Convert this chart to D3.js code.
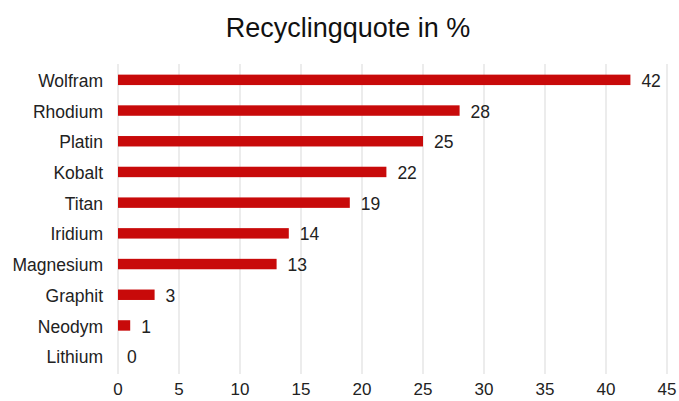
<!DOCTYPE html>
<html><head><meta charset="utf-8">
<script src="https://cdn.jsdelivr.net/npm/d3@7"></script>
<style>body{margin:0;background:#fff;} text{font-family:"Liberation Sans",Arial,sans-serif;}</style>
</head><body><svg id="c" width="679" height="401"></svg>
<script>
const categories = ["Wolfram","Rhodium","Platin","Kobalt","Titan","Iridium","Magnesium","Graphit","Neodym","Lithium"];
const values = [42,28,25,22,19,14,13,3,1,0];
const xTicks = [0,5,10,15,20,25,30,35,40,45];
const title = "Recyclingquote in %";

const svg = d3.select("#c");
const x = d3.scaleLinear().domain([0,45]).range([118,667]);
const y = d3.scaleBand().domain(categories).range([64.5,371.5]).paddingInner(0.66).paddingOuter(0.33);

svg.append("text").attr("x",348).attr("y",37).attr("text-anchor","middle")
  .attr("font-size",27).attr("fill","#111").text(title);

// gridlines
svg.append("g").selectAll("line").data(xTicks).join("line")
  .attr("x1",d=>x(d)).attr("x2",d=>x(d)).attr("y1",64).attr("y2",374)
  .attr("stroke","#d9d9d9").attr("stroke-width",1);

// x tick labels
svg.append("g").selectAll("text").data(xTicks).join("text")
  .attr("x",d=>x(d)).attr("y",395).attr("text-anchor","middle")
  .attr("font-size",17).attr("fill","#222").text(d=>d);

// category labels
svg.append("g").selectAll("text").data(categories).join("text")
  .attr("x",103).attr("y",d=>y(d)+y.bandwidth()/2+1).attr("dy","0.35em")
  .attr("text-anchor","end").attr("font-size",17.5).attr("fill","#222").text(d=>d);

// bars
svg.append("g").selectAll("rect").data(values).join("rect")
  .attr("x",x(0)).attr("y",(d,i)=>y(categories[i]))
  .attr("width",d=>x(d)-x(0)).attr("height",y.bandwidth())
  .attr("fill","#c80a0a");

// value labels
svg.append("g").selectAll("text").data(values).join("text")
  .attr("x",d=>x(d)+ (d>0?11:9)).attr("y",(d,i)=>y(categories[i])+y.bandwidth()/2+1).attr("dy","0.35em")
  .attr("font-size",17.5).attr("fill","#222").text(d=>d);
</script></body></html>
